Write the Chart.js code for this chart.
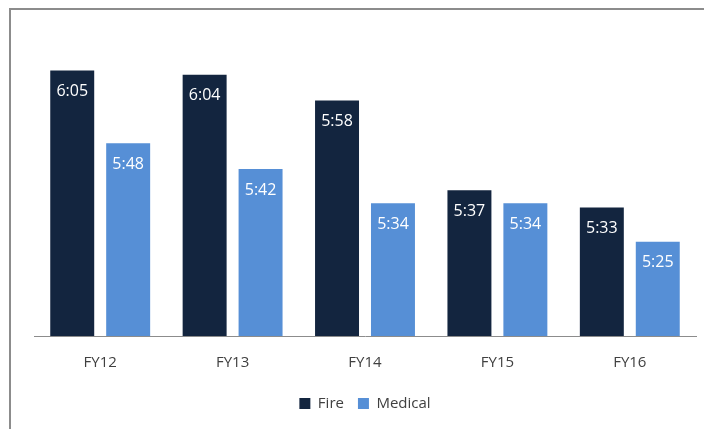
<!DOCTYPE html>
<html>
<head>
<meta charset="utf-8">
<script src="https://cdn.jsdelivr.net/npm/chart.js@4/dist/chart.umd.min.js"></script>
<style>
  html, body { margin: 0; padding: 0; background: #fff; }
  #wrap { position: relative; width: 704px; height: 429px; }
  #frame { position: absolute; left: 9px; top: 8px; right: -5px; bottom: -5px; border: 2px solid #8c8c8c; }
  canvas { position: absolute; left: 0; top: 0; }
</style>
</head>
<body>
<div id="wrap">
  <div id="frame"></div>
  <canvas id="responseChart" width="704" height="429"></canvas>
</div>
<script>
const years = ['FY12', 'FY13', 'FY14', 'FY15', 'FY16']
const fireTimes = ['6:05', '6:04', '5:58', '5:37', '5:33']
const medicalTimes = ['5:48', '5:42', '5:34', '5:34', '5:25']

const toSeconds = (t) => {
  const [m, s] = t.split(':').map(Number)
  return m * 60 + s
}

const toClock = (sec) => {
  const m = Math.floor(sec / 60)
  const s = Math.round(sec % 60)
  return `${m}:${s < 10 ? '0' : ''}${s}`
}

const fontFamily = "'Open Sans', sans-serif"

// white time labels near the top of each bar
const barLabels = {
  id: 'barLabels',
  afterDatasetsDraw(chart) {
    const { ctx } = chart
    ctx.save()
    ctx.font = `16px ${fontFamily}`
    ctx.fillStyle = '#ffffff'
    ctx.textAlign = 'center'
    ctx.textBaseline = 'middle'
    chart.data.datasets.forEach((dataset, idx) => {
      chart.getDatasetMeta(idx).data.forEach((bar, i) => {
        ctx.fillText(toClock(dataset.data[i]), bar.x, bar.y + 21)
      })
    })
    ctx.restore()
  },
}

new Chart(document.getElementById('responseChart').getContext('2d'), {
  type: 'bar',
  data: {
    labels: years,
    datasets: [
      {
        label: 'Fire',
        data: fireTimes.map(toSeconds),
        backgroundColor: '#13253f',
      },
      {
        label: 'Medical',
        data: medicalTimes.map(toSeconds),
        backgroundColor: '#568fd6',
      },
    ],
  },
  options: {
    responsive: false,
    animation: false,
    layout: {
      padding: { left: 34, right: 8, top: 49, bottom: 8 },
    },
    datasets: {
      bar: {
        categoryPercentage: 0.845,
        barPercentage: 0.786,
      },
    },
    scales: {
      x: {
        grid: { display: false },
        border: { display: true, color: '#8c8c8c', width: 1 },
        ticks: {
          color: '#404040',
          font: { family: fontFamily, size: 15 },
          padding: 10,
        },
      },
      y: {
        display: false,
        min: 303,
        max: 370,
      },
    },
    plugins: {
      legend: {
        position: 'bottom',
        labels: {
          boxWidth: 11,
          boxHeight: 11,
          padding: 14,
          color: '#404040',
          font: { family: fontFamily, size: 15 },
        },
      },
      tooltip: { enabled: false },
    },
  },
  plugins: [barLabels],
})
</script>
</body>
</html>
